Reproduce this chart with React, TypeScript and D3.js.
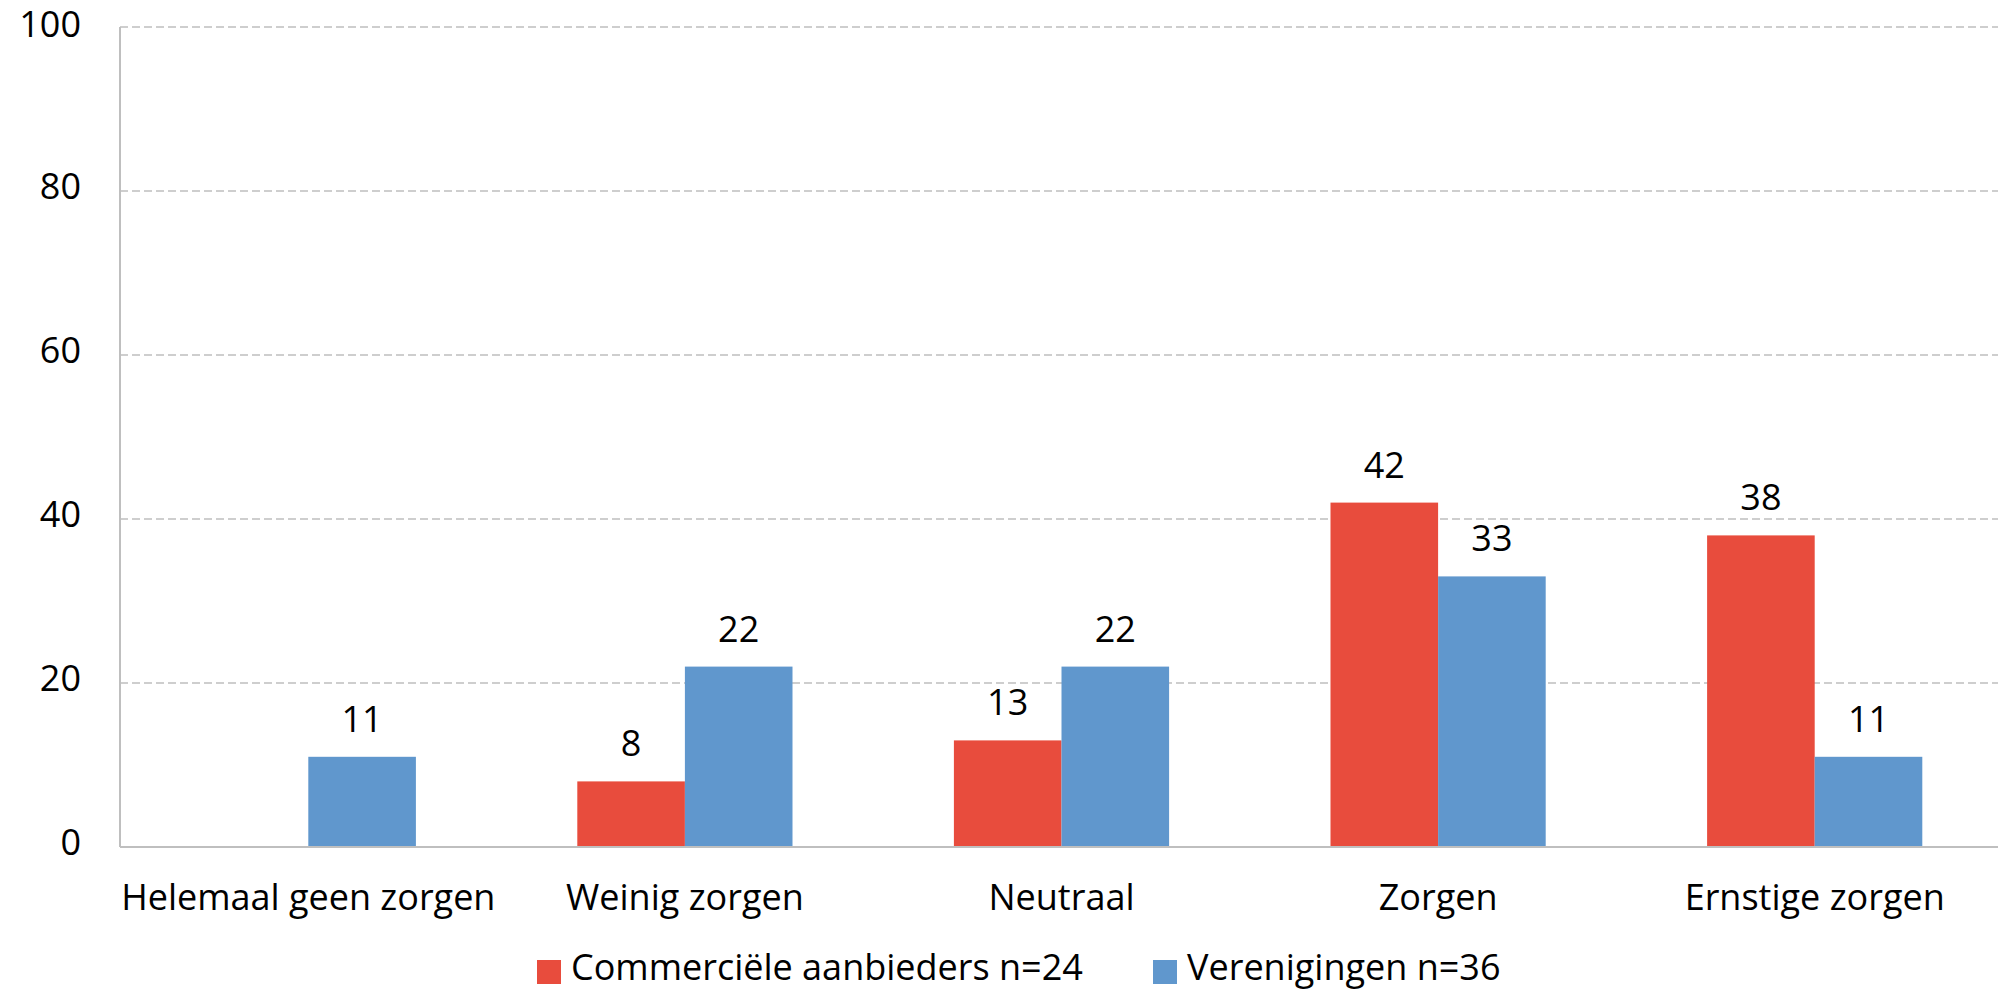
import React from "react";
import * as d3 from "d3";

const categories = ["Helemaal geen zorgen", "Weinig zorgen", "Neutraal", "Zorgen", "Ernstige zorgen"];
const seriesNames = ["Commerciële aanbieders n=24", "Verenigingen n=36"];
const commercieel = [0, 8, 13, 42, 38];
const verenigingen = [11, 22, 22, 33, 11];
const yTicks = [0, 20, 40, 60, 80, 100];
const colors = ["#E84C3D", "#6097CD"];

const W = 1998;
const H = 991;
const FONT = "'Open Sans', 'Noto Sans', sans-serif";
const FS = 36;

export default function App() {
  const left = 120, right = 2003, top = 27, bottom = 847;
  const x = d3.scaleBand<string>().domain(categories).range([left, right]).paddingInner(0).paddingOuter(0);
  const inner = d3.scaleBand<string>().domain(["0", "1"]).range([0, x.bandwidth()]).paddingOuter(0.75).paddingInner(0);
  const y = d3.scaleLinear().domain([0, 100]).range([bottom, top]);
  const series = [commercieel, verenigingen];

  return (
    <svg width={W} height={H} style={{ position: "absolute", left: 0, top: 0, background: "#fff" }}>
      {yTicks.filter(t => t > 0).map(t => (
        <line key={"g" + t} x1={left} x2={W} y1={y(t)} y2={y(t)} stroke="#bfbfbf" strokeWidth={1.5} strokeDasharray="8,4" />
      ))}
      {yTicks.map(t => (
        <text key={"t" + t} x={81} y={y(t) + (t === 100 ? 10 : 8)} textAnchor="end" fontFamily={FONT} fontSize={FS} fill="#000">{t}</text>
      ))}
      {series.map((vals, si) => vals.map((v, ci) => {
        if (v <= 0) return null;
        const bx = (x(categories[ci]) as number) + (inner(String(si)) as number);
        const bw = inner.bandwidth();
        return (
          <g key={si + "-" + ci}>
            <rect x={bx} y={y(v)} width={bw} height={y(0) - y(v)} fill={colors[si]} />
            <text x={bx + bw / 2} y={y(v) - 25} textAnchor="middle" fontFamily={FONT} fontSize={FS} fill="#000">{v}</text>
          </g>
        );
      }))}
      <line x1={left} x2={left} y1={top} y2={bottom} stroke="#bfbfbf" strokeWidth={2} />
      <line x1={left} x2={W} y1={bottom} y2={bottom} stroke="#bfbfbf" strokeWidth={2} />
      {categories.map(c => (
        <text key={c} x={(x(c) as number) + x.bandwidth() / 2} y={910} textAnchor="middle" fontFamily={FONT} fontSize={FS} fill="#000">{c}</text>
      ))}
      {seriesNames.map((n, i) => {
        const lx = [537, 1153][i];
        return (
          <g key={n}>
            <rect x={lx} y={960} width={24} height={24} fill={colors[i]} />
            <text x={lx + 34} y={980} fontFamily={FONT} fontSize={FS} fill="#000">{n}</text>
          </g>
        );
      })}
    </svg>
  );
}
